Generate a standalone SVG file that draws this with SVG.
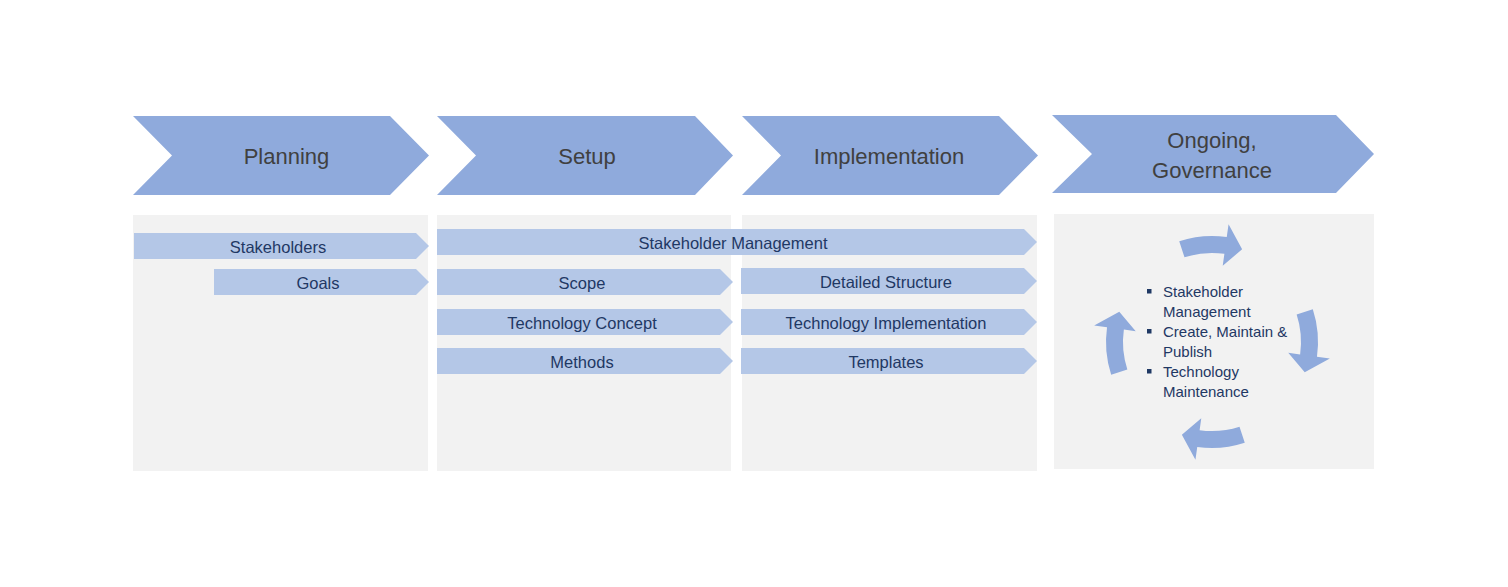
<svg xmlns="http://www.w3.org/2000/svg" xmlns:xlink="http://www.w3.org/1999/xlink" width="1508" height="587" viewBox="0 0 1508 587">
<style>
.chev{fill:#8FAADC}
.panel{fill:#F2F2F2}
.bar{fill:#B4C7E7}
.ht{font-family:"Liberation Sans",Arial,sans-serif;font-size:22px;fill:#404040;text-anchor:middle}
.bt{font-family:"Liberation Sans",Arial,sans-serif;font-size:16.5px;fill:#1F3864;text-anchor:middle}
.lt{font-family:"Liberation Sans",Arial,sans-serif;font-size:15px;fill:#1F3864}
.bul{fill:#1F3864}
.cyc{fill:#8FAADC}
</style>
<defs>
<path id="carrow" d="M1179.24,241.18 A106,106 0 0 1 1226.75,237.03 L1228.56,224.15 L1242.13,249.27 L1222.72,265.75 L1224.39,253.86 A89,89 0 0 0 1184.50,257.35 Z"/>
</defs>
<rect width="1508" height="587" fill="#FFFFFF"/>
<g id="planning">
<polygon class="chev" points="133,116 390,116 429,155.5 390,195 133,195 172,155.5"/>
<text class="ht" x="286.5" y="164">Planning</text>
</g>
<g id="setup">
<polygon class="chev" points="437,116 695,116 733,155.5 695,195 437,195 476,155.5"/>
<text class="ht" x="587" y="164">Setup</text>
</g>
<g id="implementation">
<polygon class="chev" points="742,116 999,116 1038,155.5 999,195 742,195 781,155.5"/>
<text class="ht" x="889" y="164">Implementation</text>
</g>
<g id="ongoing">
<polygon class="chev" points="1052,115 1336,115 1374,154 1336,193 1052,193 1092,154"/>
<text class="ht" x="1212" y="148">Ongoing,</text>
<text class="ht" x="1212" y="178">Governance</text>
</g>
<g id="panels">
<rect class="panel" x="133" y="215" width="295" height="256"/>
<rect class="panel" x="437" y="215" width="294" height="256"/>
<rect class="panel" x="742" y="215" width="295" height="256"/>
<rect class="panel" x="1054" y="214" width="320" height="255"/>
</g>
<g id="stakeholders">
<polygon class="bar" points="134,233 416,233 429,246 416,259 134,259"/>
<text class="bt" x="278" y="252.5">Stakeholders</text>
</g>
<g id="goals">
<polygon class="bar" points="214,269 416,269 429,282 416,295 214,295"/>
<text class="bt" x="318" y="288.5">Goals</text>
</g>
<g id="stakeholder-management">
<polygon class="bar" points="437,229 1024,229 1037,242 1024,255 437,255"/>
<text class="bt" x="733" y="248.5">Stakeholder Management</text>
</g>
<g id="scope">
<polygon class="bar" points="437,269 720,269 733,282 720,295 437,295"/>
<text class="bt" x="582" y="288.5">Scope</text>
</g>
<g id="detailed-structure">
<polygon class="bar" points="741,268 1024,268 1037,281 1024,294 741,294"/>
<text class="bt" x="886" y="287.5">Detailed Structure</text>
</g>
<g id="technology-concept">
<polygon class="bar" points="437,309 720,309 733,322 720,335 437,335"/>
<text class="bt" x="582" y="328.5">Technology Concept</text>
</g>
<g id="technology-implementation">
<polygon class="bar" points="741,309 1024,309 1037,322 1024,335 741,335"/>
<text class="bt" x="886" y="328.5">Technology Implementation</text>
</g>
<g id="methods">
<polygon class="bar" points="437,348 720,348 733,361 720,374 437,374"/>
<text class="bt" x="582" y="367.5">Methods</text>
</g>
<g id="templates">
<polygon class="bar" points="741,348 1024,348 1037,361 1024,374 741,374"/>
<text class="bt" x="886" y="367.5">Templates</text>
</g>
<g id="cycle">
<use xlink:href="#carrow" class="cyc"/>
<use xlink:href="#carrow" class="cyc" transform="rotate(90 1212 342)"/>
<use xlink:href="#carrow" class="cyc" transform="rotate(180 1212 342)"/>
<use xlink:href="#carrow" class="cyc" transform="rotate(270 1212 342)"/>
</g>
<g id="governance-list">
<rect class="bul" x="1147" y="289" width="4.5" height="4.5"/>
<rect class="bul" x="1147" y="329" width="4.5" height="4.5"/>
<rect class="bul" x="1147" y="369" width="4.5" height="4.5"/>
<text class="lt" x="1163" y="297">Stakeholder</text>
<text class="lt" x="1163" y="317">Management</text>
<text class="lt" x="1163" y="337">Create, Maintain &amp;</text>
<text class="lt" x="1163" y="357">Publish</text>
<text class="lt" x="1163" y="377">Technology</text>
<text class="lt" x="1163" y="397">Maintenance</text>
</g>
</svg>
